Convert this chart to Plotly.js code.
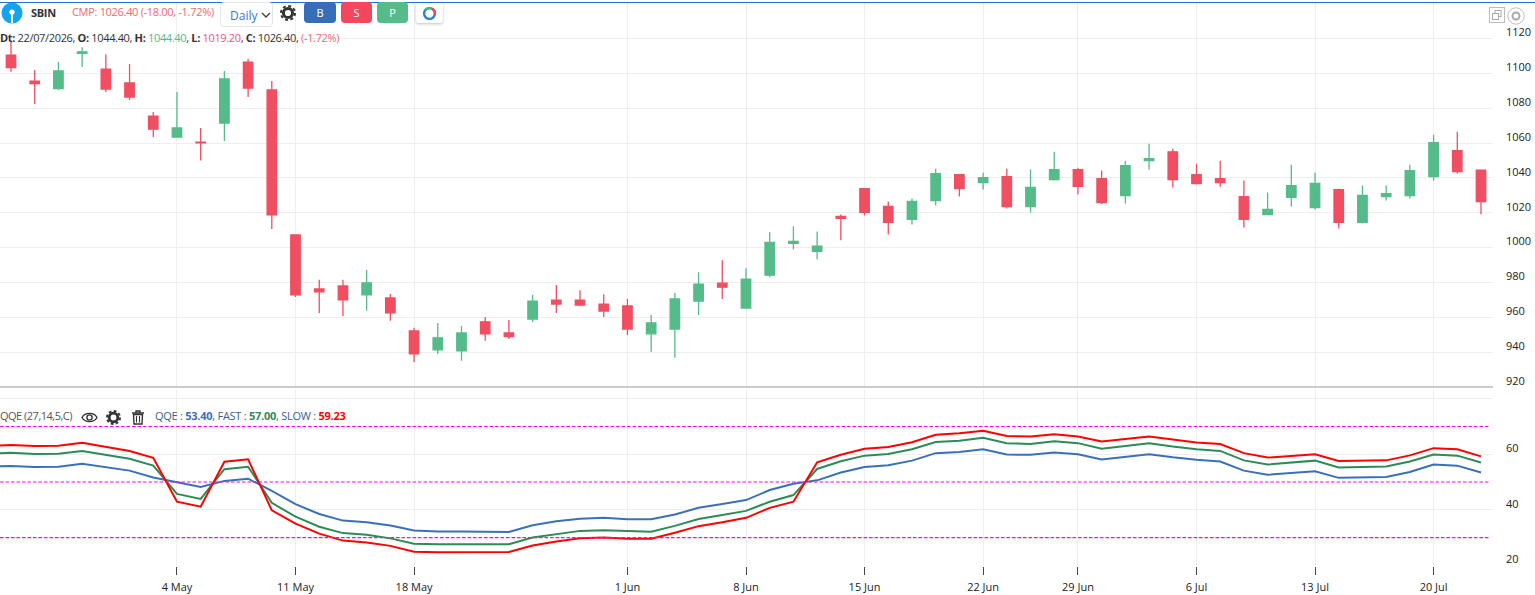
<!DOCTYPE html>
<html>
<head>
<meta charset="utf-8">
<script src="https://cdn.plot.ly/plotly-3.0.1.min.js"></script>
<style>
html,body{margin:0;padding:0;background:#fff;overflow:hidden}
#wrap{position:relative;width:1535px;height:595px;font-family:"Open Sans",sans-serif}
#chart{position:absolute;left:0;top:0;width:1535px;height:595px}
.t{position:absolute;white-space:nowrap;font-size:11px;line-height:14px;color:#333;letter-spacing:-0.3px}
.btn{position:absolute;top:2px;height:21px;border-radius:4px;color:#fff;font-size:11px;line-height:21px;text-align:center}
svg.i{position:absolute}
</style>
</head>
<body>
<div id="wrap">
<div id="chart"></div>
<svg class="i" style="left:1px;top:2px" width="22" height="22" viewBox="0 0 22 22"><circle cx="11" cy="11" r="10.5" fill="#14a4ee"/><circle cx="11" cy="10" r="2.6" fill="#fff"/><rect x="10" y="10" width="2" height="11" fill="#fff"/></svg>
<div class="t" style="left:31px;top:6px;font-weight:700;color:#333">SBIN</div>
<div class="t" style="left:72px;top:5px;color:#ee6a70;letter-spacing:-0.31px">CMP: 1026.40 (-18.00, -1.72%)</div>
<div style="position:absolute;left:220px;top:2px;width:53px;height:25px;border:1px solid #e3e6ec;border-radius:4px;box-sizing:border-box;background:#fff"></div>
<div class="t" style="left:230px;top:9px;font-size:12px;color:#3a76c9;letter-spacing:0">Daily</div>
<svg class="i" style="left:261px;top:11px" width="10" height="8"><path d="M1 2 L5 6 L9 2" fill="none" stroke="#444" stroke-width="1.4"/></svg>
<svg class="i" style="left:280px;top:5px" width="16" height="16" viewBox="0 0 16 16"><circle cx="8" cy="8" r="4.6" fill="none" stroke="#333" stroke-width="3"/><circle cx="8" cy="8" r="7" fill="none" stroke="#333" stroke-width="2" stroke-dasharray="3,2.5"/></svg>
<div class="btn" style="left:304px;width:32px;background:#346fb7">B</div>
<div class="btn" style="left:341px;width:31px;background:#f4465c">S</div>
<div class="btn" style="left:377px;width:31px;background:#54bb89">P</div>
<div style="position:absolute;left:416px;top:3px;width:27px;height:20px;border-radius:3px;background:#fff;box-shadow:0 1px 3px rgba(0,0,0,.25)"></div>
<svg class="i" style="left:422px;top:6px" width="15" height="15" viewBox="0 0 15 15"><circle cx="7.5" cy="7.5" r="5.4" fill="none" stroke="#2f7fd6" stroke-width="2.4"/><path d="M3.2 4.2 A5.4 5.4 0 0 1 10 2.7" fill="none" stroke="#3fc06a" stroke-width="2.4"/><path d="M10 2.7 A5.4 5.4 0 0 1 12.8 8.6" fill="none" stroke="#f4465c" stroke-width="2.4"/></svg>
<div class="t" style="left:0;top:31px;letter-spacing:-0.34px"><b>Dt:</b> 22/07/2026, <b>O:</b> 1044.40, <b>H:</b> <span style="color:#54bb89">1044.40</span>, <b>L:</b> <span style="color:#f0567a">1019.20</span>, <b>C:</b> 1026.40, <span style="color:#ee6a70">(-1.72%)</span></div>
<svg class="i" style="left:1489px;top:7px" width="17" height="16" viewBox="0 0 17 16"><rect x="0.5" y="0.5" width="15" height="15" fill="#fff" stroke="#bdbdbd"/><rect x="6" y="3.5" width="6" height="6" fill="none" stroke="#a8a8a8"/><rect x="3.5" y="6.5" width="6" height="6" fill="#fff" stroke="#a8a8a8"/></svg>
<svg class="i" style="left:1507px;top:7px" width="18" height="18" viewBox="0 0 18 18"><circle cx="9" cy="9" r="8.2" fill="#fff" stroke="#bdbdbd"/><circle cx="9" cy="9" r="3.5" fill="none" stroke="#aaa" stroke-width="2"/></svg>
<div class="t" style="left:0;top:409px;color:#555;letter-spacing:-0.5px">QQE (27,14,5,C)</div>
<svg class="i" style="left:81px;top:411px" width="17" height="13" viewBox="0 0 17 13"><path d="M1 6.5 C4 1 13 1 16 6.5 C13 12 4 12 1 6.5 Z" fill="none" stroke="#333" stroke-width="1.4"/><circle cx="8.5" cy="6.5" r="2.6" fill="none" stroke="#333" stroke-width="1.4"/></svg>
<svg class="i" style="left:106px;top:410px" width="15" height="15" viewBox="0 0 16 16"><circle cx="8" cy="8" r="4.6" fill="none" stroke="#333" stroke-width="3"/><circle cx="8" cy="8" r="7" fill="none" stroke="#333" stroke-width="2" stroke-dasharray="3,2.5"/></svg>
<svg class="i" style="left:131px;top:410px" width="14" height="15" viewBox="0 0 14 15"><path d="M1 3 H13 M5 3 V1 H9 V3" fill="none" stroke="#333" stroke-width="1.4"/><path d="M2.5 4.5 H11.5 L11 14 H3 Z" fill="none" stroke="#333" stroke-width="1.4"/><path d="M5.5 6 V12.5 M8.5 6 V12.5" stroke="#333" stroke-width="1.1"/></svg>
<div class="t" style="left:155px;top:409px;color:#3a5f8a;letter-spacing:-0.26px">QQE : <b style="color:#3a70b5">53.40</b>, FAST : <b style="color:#2e8b57">57.00</b>, SLOW : <b style="color:#f00">59.23</b></div>
</div>
<script>
var categories = ["21 Apr","22 Apr","23 Apr","24 Apr","27 Apr","28 Apr","29 Apr","30 Apr","4 May","5 May","6 May","7 May","8 May","11 May","12 May","13 May","14 May","15 May","18 May","19 May","20 May","21 May","22 May","25 May","26 May","28 May","29 May","1 Jun","2 Jun","3 Jun","4 Jun","5 Jun","8 Jun","9 Jun","10 Jun","11 Jun","12 Jun","15 Jun","16 Jun","17 Jun","18 Jun","19 Jun","22 Jun","23 Jun","24 Jun","25 Jun","29 Jun","30 Jun","1 Jul","2 Jul","3 Jul","6 Jul","7 Jul","8 Jul","9 Jul","10 Jul","13 Jul","14 Jul","15 Jul","16 Jul","17 Jul","20 Jul","21 Jul","22 Jul"];
var candleDates = categories.slice(1);
var openP = [1110.5,1095.6,1091.2,1111.5,1102.5,1094.5,1075.5,1063.5,1060.6,1071.5,1106.5,1090.5,1007.3,976.3,978,972.9,971.1,952.2,941.3,940.7,957.4,951,959,969.9,969.9,967.6,966.5,950.5,953.3,969.3,979.6,965.3,984.2,1002.5,997.9,1017.9,1033.9,1023.6,1016.2,1027,1041.9,1037.3,1040.8,1023.6,1039,1044.8,1039.6,1029.9,1049.9,1055,1041.9,1039.6,1029.3,1019,1028.8,1023,1033.3,1014.5,1029.3,1029.9,1040.8,1055.6,1044.4];
var highP = [1118,1102,1106.5,1115,1111,1105.4,1077.8,1089.3,1068.7,1101.4,1108.2,1095.6,1007.3,981.5,981.5,987.2,973.4,954,956.8,955,960.2,958.5,972.8,978.5,975.6,973.3,970.5,961.3,973.9,985.9,992.8,988.2,1008.8,1012.2,1009.3,1019,1033.9,1026.5,1028.2,1045.3,1041.9,1043,1045.3,1044.8,1055,1045.9,1044.2,1049.9,1059.6,1056.8,1048.2,1049.9,1038.5,1031.6,1047.6,1043,1033.9,1035.6,1035.6,1047.6,1064.8,1066.5,1044.4];
var lowP = [1101,1082.4,1090.5,1103.6,1089.3,1084.7,1063.5,1063.5,1050,1061.2,1086.4,1010.7,971.7,962.5,960.8,963.7,958,934.4,939,935,946.5,947.6,957.3,962.5,966.5,960.2,949.9,940.2,936.8,961.3,970.5,965.3,983,999,993.3,1004.2,1018.5,1007.6,1013.3,1024.2,1029.3,1033.3,1022.5,1020.2,1038.5,1030.5,1025,1025.3,1044.8,1034.5,1036.2,1035,1011.6,1019,1023.6,1021.9,1011,1013.9,1027,1028.2,1038.5,1042.5,1019.2];
var closeP = [1103.3,1094.1,1101.4,1112.4,1091,1086.4,1068,1068.7,1060.2,1096.8,1091.6,1018.8,972.9,974.6,970,979.8,962.5,939,948.2,951,950.5,948.9,969.3,967.6,967,963.6,953.3,956.8,970.5,979,977.3,981.9,1003,1003.6,1000.8,1016.8,1020.2,1014.5,1026.5,1042.5,1033.9,1040.2,1023.6,1034.5,1044.8,1035.2,1025.9,1047,1051,1039,1036.8,1037.3,1016.2,1021.9,1035.6,1036.8,1014.5,1029.9,1031,1044.2,1060.2,1043.6,1026.4];
var qqeLine = [55.5,55.8,55.4,55.5,56.6,55.3,54.1,51.6,49.9,48.2,50.4,51.2,46.8,42,38.5,36.1,35.5,34.3,32.5,32.2,32.2,32.1,32,34.4,35.9,36.8,37.1,36.6,36.6,38.3,40.7,42.1,43.5,47.1,49.4,50.6,53.4,55.4,56,57.7,60.4,60.8,61.8,59.9,59.8,60.6,60,58.1,59,60,58.9,58,57.4,54.1,52.6,53.2,53.9,51.5,51.6,51.8,53.6,56.3,55.9,53.4];
var fastLine = [60.2,60.5,60.1,60.2,61.2,59.9,58.4,55.9,45.7,43.9,54.6,55.5,42.5,37.5,33.9,31.6,31,29.7,27.8,27.6,27.6,27.6,27.6,30,31.3,32.4,32.6,32.3,32.1,34.2,36.7,38.1,39.6,42.9,45.3,54.7,57.5,59.5,60.1,61.8,64.4,64.9,65.9,64,63.7,64.7,64,62,63,64,62.8,61.8,61.2,57.8,56.3,57,57.7,55.2,55.3,55.6,57.4,59.9,59.5,57];
var slowLine = [62.9,63.35,63,63.1,64.1,62.6,61.2,58.7,42.9,41.1,57.3,58.2,39.8,35,31.4,28.9,28.2,27,24.9,24.7,24.7,24.8,24.8,27.1,28.6,29.7,30,29.6,29.6,31.7,34.1,35.5,37.1,40.7,42.9,57.1,59.8,62,62.6,64.3,67,67.6,68.5,66.6,66.4,67.2,66.4,64.6,65.5,66.4,65.3,64.2,63.7,60.4,58.8,59.4,60,57.6,57.7,57.8,59.6,62.2,61.8,59.23];
var bandLevels = [30,50,70];
var xTicks = ["4 May","11 May","18 May","1 Jun","8 Jun","15 Jun","22 Jun","29 Jun","6 Jul","13 Jul","20 Jul"];
var priceTicks = [920,940,960,980,1000,1020,1040,1060,1080,1100,1120];
var qqeTicks = [20,40,60,80];
var qqeTickText = ["20","40","60",""];

var W=1535,H=595,GREEN="#54bb89",RED="#ef4f61",GRID="#eeeeee",DOM=1493/W;
var xRange=[0.536,63.506];
var traces=[
 {type:"candlestick",x:candleDates,open:openP,high:highP,low:lowP,close:closeP,xaxis:"x",yaxis:"y",
  increasing:{line:{color:GREEN,width:1.3},fillcolor:GREEN},decreasing:{line:{color:RED,width:1.3},fillcolor:RED},showlegend:false,hoverinfo:"skip"},
 {type:"scatter",mode:"lines",x:categories,y:qqeLine,xaxis:"x2",yaxis:"y2",line:{color:"#3a70b8",width:2},name:"QQE",showlegend:false,hoverinfo:"skip"},
 {type:"scatter",mode:"lines",x:categories,y:fastLine,xaxis:"x2",yaxis:"y2",line:{color:"#2e8b57",width:2},name:"FAST",showlegend:false,hoverinfo:"skip"},
 {type:"scatter",mode:"lines",x:categories,y:slowLine,xaxis:"x2",yaxis:"y2",line:{color:"#ff0000",width:2},name:"SLOW",showlegend:false,hoverinfo:"skip"}
];
var shapes=bandLevels.map(function(v){return {type:"line",xref:"paper",x0:0,x1:1490/W,yref:"y2",y0:v,y1:v,line:{color:"#ff00ff",width:1.2,dash:"3.5px,2px"},layer:"above"};});
shapes.push({type:"line",xref:"paper",x0:0,x1:DOM,yref:"paper",y0:1-387/H,y1:1-387/H,line:{color:"#cccccc",width:2}});
shapes.push({type:"line",xref:"paper",x0:0,x1:1,yref:"paper",y0:1-2.5/H,y1:1-2.5/H,line:{color:"#1a73d9",width:1}});
var xBase={type:"category",categoryorder:"array",categoryarray:categories,range:xRange,domain:[0,DOM],tickmode:"array",tickvals:xTicks,showgrid:true,gridcolor:GRID,gridwidth:1,zeroline:false,rangeslider:{visible:false},fixedrange:true};
var yFont={family:"Open Sans, sans-serif",size:11,color:"#222"};
var layout={
 width:W,height:H,margin:{l:0,r:0,t:0,b:0},paper_bgcolor:"rgba(0,0,0,0)",plot_bgcolor:"rgba(0,0,0,0)",showlegend:false,boxgap:0.43,
 font:{family:"Open Sans, sans-serif",size:11,color:"#222"},
 xaxis:Object.assign({},xBase,{anchor:"y",showticklabels:false,ticks:""}),
 xaxis2:Object.assign({},xBase,{anchor:"y2",matches:"x",showticklabels:true,ticks:"outside",ticklen:8,tickwidth:1,tickcolor:"#444",tickfont:{family:"Open Sans, sans-serif",size:11,color:"#222"},ticklabelstandoff:3}),
 yaxis:{domain:[1-387/H,1-3/H],range:[920,1140.4],side:"right",anchor:"x",tickmode:"array",tickvals:priceTicks,showgrid:true,gridcolor:GRID,zeroline:false,ticks:"",ticklabelstandoff:12,ticklabelshift:-6,tickfont:yFont,fixedrange:true},
 yaxis2:{domain:[1-566/H,1-389/H],range:[19.75,83.5],side:"right",anchor:"x2",tickmode:"array",tickvals:qqeTicks,ticktext:qqeTickText,showgrid:true,gridcolor:GRID,zeroline:false,ticks:"",ticklabelstandoff:12,ticklabelshift:-6,tickfont:yFont,fixedrange:true},
 shapes:shapes
};
Plotly.newPlot("chart",traces,layout,{displayModeBar:false,staticPlot:true});
</script>
</body>
</html>
